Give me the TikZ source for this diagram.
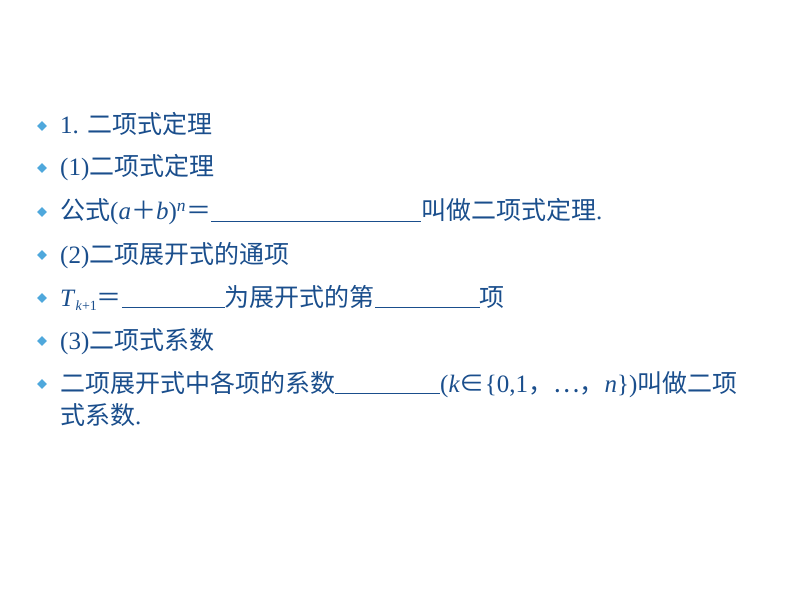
\documentclass[tikz,border=0pt]{standalone}
\usepackage{fontspec}
\setmainfont{Liberation Serif}
\newfontfamily\cjk{Noto Sans CJK SC}
\usetikzlibrary{shapes.geometric}
\definecolor{txt}{HTML}{1A4E8C}
\definecolor{bul}{HTML}{4FA8DC}
\newcommand{\C}[1]{{\cjk #1}}
\newcommand{\blank}[1]{\rule[-2bp]{#1bp}{0.8bp}}
\begin{document}
\begin{tikzpicture}[x=1bp,y=-1bp,
  line/.style={anchor=base west,inner sep=0pt,text=txt,font=\fontsize{25bp}{28bp}\selectfont},
  bulletmark/.style={diamond,fill=bul,inner sep=0pt,minimum size=10bp}]
\useasboundingbox (0,0) rectangle (794,596);
\foreach \y/\n in {126/b1,168/b2,212/b3,255/b4,298/b5,341/b6,384/b7}
  \node[bulletmark] (\n) at (42,\y) {};
\node[line] (l1) at (60,134) {1. \C{二项式定理}};
\node[line] (l2) at (60,176) {(1)\C{二项式定理}};
\node[line] (l3) at (60,220) {\C{公式}(\textit{a}\C{＋}\textit{b})\textsuperscript{\textit{n}}\C{＝}\blank{210}\C{叫做二项式定理}.};
\node[line] (l4) at (60,263) {(2)\C{二项展开式的通项}};
\node[line] (l5) at (60,306) {\textit{T}\raisebox{-4bp}{\fontsize{14bp}{16bp}\selectfont\textit{k}+1}\C{＝}\blank{103}\C{为展开式的第}\blank{105}\C{项}};
\node[line] (l6) at (60,349) {(3)\C{二项式系数}};
\node[line] (l7) at (60,392) {\C{二项展开式中各项的系数}\blank{105}(\textit{k}\C{∈}\{0,1\C{，}\C{⋯}\C{，}\textit{n}\})\C{叫做二项}};
\node[line] (l8) at (60,424) {\C{式系数}.};
\end{tikzpicture}
\end{document}
